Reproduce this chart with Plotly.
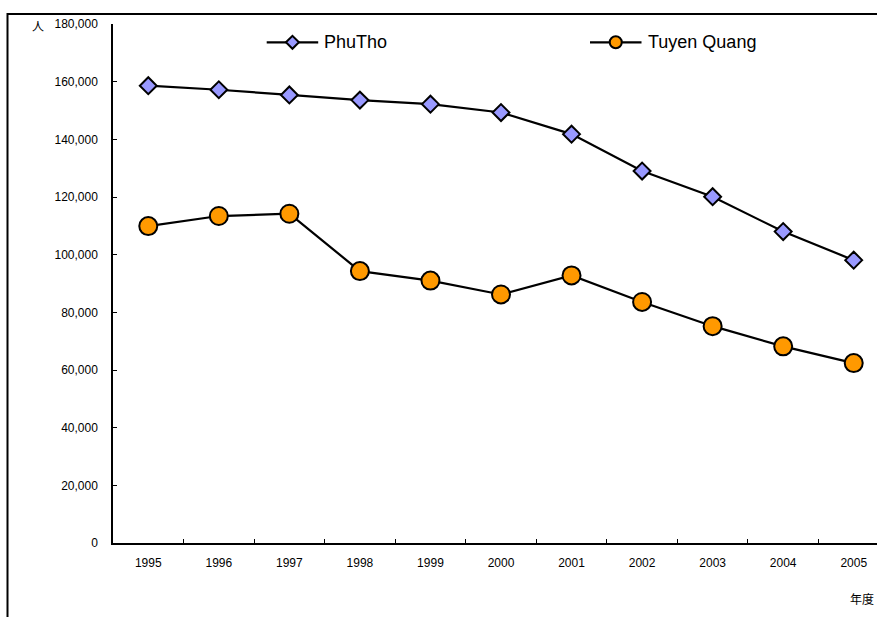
import plotly.graph_objects as go

# Population by year for two provinces
years = ["1995", "1996", "1997", "1998", "1999", "2000",
         "2001", "2002", "2003", "2004", "2005"]
series_names = ["PhuTho", "Tuyen Quang"]
phutho = [158600, 157200, 155400, 153600, 152200, 149300,
          141800, 129000, 120100, 108000, 98100]
tuyen_quang = [109900, 113400, 114200, 94300, 91000, 86200,
               92800, 83600, 75200, 68200, 62400]
y_ticks = list(range(0, 180001, 20000))

W, H = 877, 617
L, R, T, B = 113, 0, 24, 74
PW, PH = W - L - R, H - T - B

FONT = "Liberation Sans, Arial, sans-serif"
CJK = "Noto Sans CJK JP, sans-serif"
DIAMOND_FILL = "#9999FF"
CIRCLE_FILL = "#FF9900"


def px_x(px):
    return (px - L) / PW


def px_y(py):
    return (H - B - py) / PH


fig = go.Figure()
fig.add_trace(go.Scatter(
    x=years, y=phutho, name=series_names[0], mode="lines+markers",
    line=dict(color="black", width=2.2),
    marker=dict(symbol="diamond", size=13, color=DIAMOND_FILL,
                line=dict(color="black", width=2)),
))
fig.add_trace(go.Scatter(
    x=years, y=tuyen_quang, name=series_names[1], mode="lines+markers",
    line=dict(color="black", width=2.2),
    marker=dict(symbol="circle", size=18, color=CIRCLE_FILL,
                line=dict(color="black", width=2)),
))

shapes = []
annotations = []

# outer chart frame (runs past the right and bottom edges)
shapes.append(dict(type="rect", xref="paper", yref="paper",
                   x0=px_x(7.5), x1=px_x(920), y0=px_y(660), y1=px_y(14),
                   line=dict(color="black", width=2), layer="below"))

# legend: line segment, marker and label for each series
legend_items = [
    (series_names[0], 266.7, "diamond", DIAMOND_FILL),
    (series_names[1], 590.0, "circle", CIRCLE_FILL),
]
ly = 42.3
for name, x0, sym, fill in legend_items:
    x1 = x0 + 51.5
    cx = (x0 + x1) / 2
    shapes.append(dict(type="line", xref="paper", yref="paper",
                       x0=px_x(x0), x1=px_x(x1), y0=px_y(ly), y1=px_y(ly),
                       line=dict(color="black", width=2.2)))
    if sym == "diamond":
        r = 6.5
        path = "M{},{} L{},{} L{},{} L{},{} Z".format(
            px_x(cx - r), px_y(ly), px_x(cx), px_y(ly - r),
            px_x(cx + r), px_y(ly), px_x(cx), px_y(ly + r))
        shapes.append(dict(type="path", xref="paper", yref="paper", path=path,
                           fillcolor=fill, line=dict(color="black", width=2)))
    else:
        r = 6
        shapes.append(dict(type="circle", xref="paper", yref="paper",
                           x0=px_x(cx - r), x1=px_x(cx + r),
                           y0=px_y(ly + r), y1=px_y(ly - r),
                           fillcolor=fill, line=dict(color="black", width=2)))
    annotations.append(dict(xref="paper", yref="paper", x=px_x(x1 + 4),
                            y=px_y(ly), text=name, showarrow=False,
                            xanchor="left", yanchor="middle",
                            font=dict(family=FONT, size=18, color="black")))

# axis unit labels
annotations.append(dict(xref="paper", yref="paper", x=px_x(38), y=px_y(25),
                        text="人", showarrow=False, xanchor="center",
                        yanchor="middle",
                        font=dict(family=CJK, size=12, color="black")))
annotations.append(dict(xref="paper", yref="paper", x=px_x(876), y=px_y(598),
                        text="年度", showarrow=False, xanchor="right",
                        yanchor="middle",
                        font=dict(family=CJK, size=12, color="black")))

fig.update_layout(
    width=W, height=H,
    margin=dict(l=L, r=R, t=T, b=B, pad=0),
    paper_bgcolor="white", plot_bgcolor="white",
    showlegend=False,
    shapes=shapes, annotations=annotations,
    font=dict(family=FONT, size=12, color="black"),
)
fig.update_xaxes(
    type="category", range=[-0.5, 10.33],
    showgrid=False, zeroline=False,
    showline=True, linecolor="black", linewidth=1.5,
    ticks="inside", tickson="boundaries", ticklen=4, tickwidth=1,
    tickcolor="black", ticklabelstandoff=8,
    tickfont=dict(family=FONT, size=12, color="black"),
)
fig.update_yaxes(
    range=[0, 180000], tickvals=y_ticks, tickformat=",d",
    showgrid=False, zeroline=False,
    showline=True, linecolor="black", linewidth=1.5,
    ticks="inside", ticklen=4, tickwidth=1, tickcolor="black",
    ticklabelstandoff=11,
    tickfont=dict(family=FONT, size=12, color="black"),
)

fig.write_html("out.html")
